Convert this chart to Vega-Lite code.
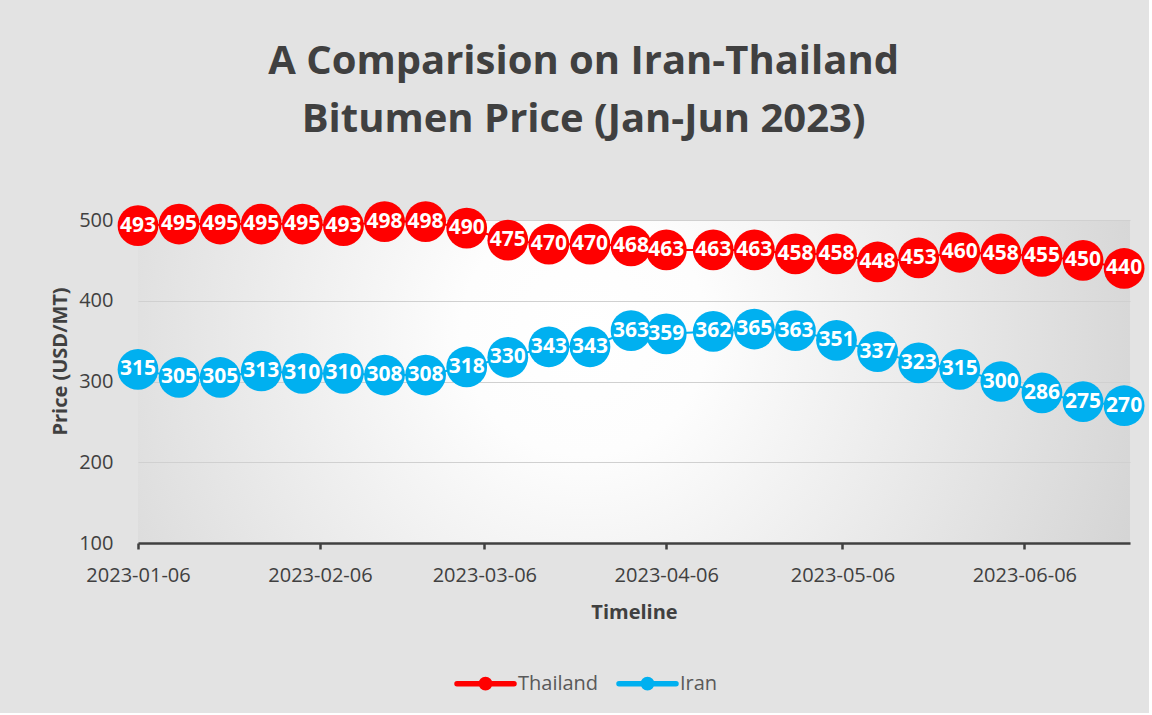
{
  "$schema": "https://vega.github.io/schema/vega-lite/v6.json",
  "width": 992,
  "height": 323,
  "padding": {"left": 50, "top": 42, "right": 4, "bottom": 14},
  "background": "#e3e3e3",
  "config": {
    "font": "Open Sans",
    "view": {
      "stroke": null,
      "fill": {
        "gradient": "radial",
        "x1": 0.45, "y1": 0.45, "r1": 0,
        "x2": 0.45, "y2": 0.45, "r2": 0.62,
        "stops": [
          {"offset": 0, "color": "#ffffff"},
          {"offset": 0.2, "color": "#fdfdfd"},
          {"offset": 1, "color": "#d2d2d2"}
        ]
      }
    }
  },
  "title": {
    "text": ["A Comparision on Iran-Thailand", "Bitumen Price (Jan-Jun 2023)"],
    "font": "Open Sans",
    "fontSize": 40,
    "fontWeight": "bold",
    "color": "#404040",
    "lineHeight": 58,
    "anchor": "middle",
    "frame": "bounds",
    "dx": -14,
    "offset": 61
  },
  "data": {
    "values": [
      {"date": "2023-01-06", "country": "Thailand", "price": 493},
      {"date": "2023-01-13", "country": "Thailand", "price": 495},
      {"date": "2023-01-20", "country": "Thailand", "price": 495},
      {"date": "2023-01-27", "country": "Thailand", "price": 495},
      {"date": "2023-02-03", "country": "Thailand", "price": 495},
      {"date": "2023-02-10", "country": "Thailand", "price": 493},
      {"date": "2023-02-17", "country": "Thailand", "price": 498},
      {"date": "2023-02-24", "country": "Thailand", "price": 498},
      {"date": "2023-03-03", "country": "Thailand", "price": 490},
      {"date": "2023-03-10", "country": "Thailand", "price": 475},
      {"date": "2023-03-17", "country": "Thailand", "price": 470},
      {"date": "2023-03-24", "country": "Thailand", "price": 470},
      {"date": "2023-03-31", "country": "Thailand", "price": 468},
      {"date": "2023-04-06", "country": "Thailand", "price": 463},
      {"date": "2023-04-14", "country": "Thailand", "price": 463},
      {"date": "2023-04-21", "country": "Thailand", "price": 463},
      {"date": "2023-04-28", "country": "Thailand", "price": 458},
      {"date": "2023-05-05", "country": "Thailand", "price": 458},
      {"date": "2023-05-12", "country": "Thailand", "price": 448},
      {"date": "2023-05-19", "country": "Thailand", "price": 453},
      {"date": "2023-05-26", "country": "Thailand", "price": 460},
      {"date": "2023-06-02", "country": "Thailand", "price": 458},
      {"date": "2023-06-09", "country": "Thailand", "price": 455},
      {"date": "2023-06-16", "country": "Thailand", "price": 450},
      {"date": "2023-06-23", "country": "Thailand", "price": 440},
      {"date": "2023-01-06", "country": "Iran", "price": 315},
      {"date": "2023-01-13", "country": "Iran", "price": 305},
      {"date": "2023-01-20", "country": "Iran", "price": 305},
      {"date": "2023-01-27", "country": "Iran", "price": 313},
      {"date": "2023-02-03", "country": "Iran", "price": 310},
      {"date": "2023-02-10", "country": "Iran", "price": 310},
      {"date": "2023-02-17", "country": "Iran", "price": 308},
      {"date": "2023-02-24", "country": "Iran", "price": 308},
      {"date": "2023-03-03", "country": "Iran", "price": 318},
      {"date": "2023-03-10", "country": "Iran", "price": 330},
      {"date": "2023-03-17", "country": "Iran", "price": 343},
      {"date": "2023-03-24", "country": "Iran", "price": 343},
      {"date": "2023-03-31", "country": "Iran", "price": 363},
      {"date": "2023-04-06", "country": "Iran", "price": 359},
      {"date": "2023-04-14", "country": "Iran", "price": 362},
      {"date": "2023-04-21", "country": "Iran", "price": 365},
      {"date": "2023-04-28", "country": "Iran", "price": 363},
      {"date": "2023-05-05", "country": "Iran", "price": 351},
      {"date": "2023-05-12", "country": "Iran", "price": 337},
      {"date": "2023-05-19", "country": "Iran", "price": 323},
      {"date": "2023-05-26", "country": "Iran", "price": 315},
      {"date": "2023-06-02", "country": "Iran", "price": 300},
      {"date": "2023-06-09", "country": "Iran", "price": 286},
      {"date": "2023-06-16", "country": "Iran", "price": 275},
      {"date": "2023-06-23", "country": "Iran", "price": 270}
    ]
  },
  "encoding": {
    "x": {
      "field": "date",
      "type": "temporal",
      "title": "Timeline",
      "scale": {
        "type": "utc",
        "domain": [
          {"year": 2023, "month": 1, "date": 6, "utc": true},
          {"year": 2023, "month": 6, "date": 24, "utc": true}
        ]
      },
      "axis": {
        "values": [
          {"year": 2023, "month": 1, "date": 6, "utc": true},
          {"year": 2023, "month": 2, "date": 6, "utc": true},
          {"year": 2023, "month": 3, "date": 6, "utc": true},
          {"year": 2023, "month": 4, "date": 6, "utc": true},
          {"year": 2023, "month": 5, "date": 6, "utc": true},
          {"year": 2023, "month": 6, "date": 6, "utc": true}
        ],
        "labelExpr": "utcFormat(datum.value, '%Y-%m-%d')",
        "grid": false,
        "domainColor": "#404040",
        "domainWidth": 2.5,
        "tickColor": "#404040",
        "tickWidth": 2.5,
        "tickSize": 6,
        "labelFontSize": 20,
        "labelColor": "#404040",
        "labelPadding": 16,
        "labelFlush": false,
        "labelOverlap": false,
        "titleFontSize": 20,
        "titleFontWeight": "bold",
        "titleColor": "#404040",
        "titlePadding": 17
      }
    },
    "y": {
      "field": "price",
      "type": "quantitative",
      "title": "Price (USD/MT)",
      "scale": {"domain": [100, 500]},
      "axis": {
        "values": [100, 200, 300, 400, 500],
        "grid": true,
        "gridColor": "#d0d0d0",
        "gridWidth": 1.2,
        "domain": false,
        "ticks": false,
        "tickSize": 0,
        "labelPadding": 25,
        "labelFontSize": 20,
        "labelColor": "#404040",
        "titleFontSize": 20,
        "titleFontWeight": "bold",
        "titleColor": "#404040",
        "titlePadding": 8,
        "titleY": 141
      }
    },
    "color": {
      "field": "country",
      "type": "nominal",
      "scale": {"domain": ["Thailand", "Iran"], "range": ["#ff0000", "#00b0f0"]},
      "legend": {
        "orient": "none",
        "legendX": 316,
        "legendY": 432,
        "direction": "horizontal",
        "title": null,
        "padding": 0,
        "symbolType": "M-1,0L1,0M0.149,0A0.149,0.149,0,1,1,-0.149,0A0.149,0.149,0,1,1,0.149,0Z",
        "symbolSize": 3249,
        "symbolStrokeWidth": 5.5,
        "labelFontSize": 20,
        "labelColor": "#595959",
        "labelOffset": 1,
        "columnPadding": 9,
        "encode": {
          "symbols": {
            "update": {
              "fill": {"scale": "color", "field": "value"},
              "stroke": {"scale": "color", "field": "value"},
              "strokeCap": {"value": "round"},
              "opacity": {"value": 1}
            }
          }
        }
      }
    }
  },
  "layer": [
    {"mark": {"type": "line", "strokeWidth": 2}},
    {"mark": {"type": "circle", "size": 1660, "opacity": 1}},
    {
      "mark": {"type": "text", "fontWeight": "bold", "fontSize": 21, "baseline": "middle", "align": "center"},
      "encoding": {
        "text": {"field": "price", "type": "quantitative"},
        "color": {"value": "#ffffff"}
      }
    }
  ]
}
